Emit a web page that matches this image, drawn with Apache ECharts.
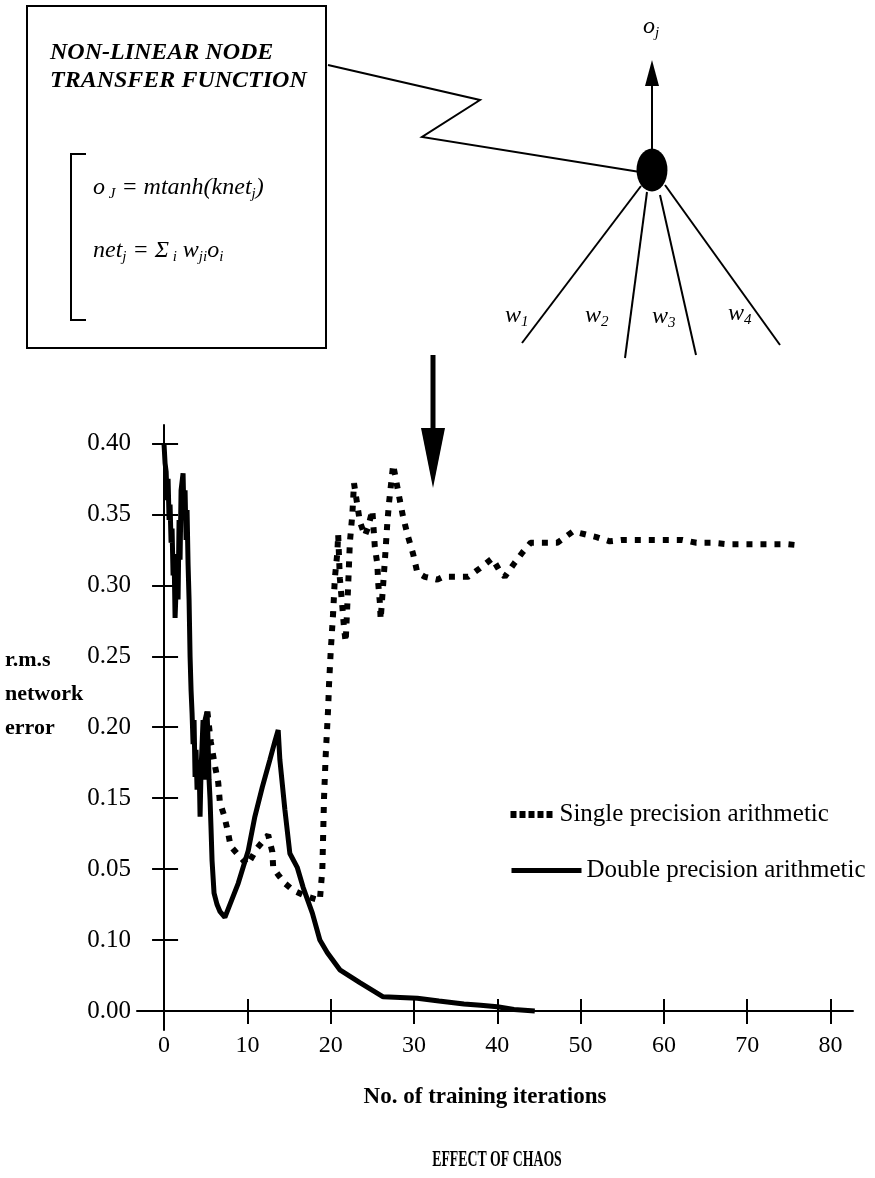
<!DOCTYPE html>
<html><head><meta charset="utf-8">
<script src="https://cdn.jsdelivr.net/npm/echarts@6/dist/echarts.min.js"></script>
<style>html,body{margin:0;padding:0;background:#fff}#c{width:875px;height:1178px}</style>
</head><body><div id="c"></div>
<script>
// ---- data ----
const xTicks = [0, 10, 20, 30, 40, 50, 60, 70, 80];
const yTicks = [0, 0.05, 0.10, 0.15, 0.20, 0.25, 0.30, 0.35, 0.40];
const yTickLabels = ['0.00', '0.10', '0.05', '0.15', '0.20', '0.25', '0.30', '0.35', '0.40'];

const doubleX = [0, 0.12, 0.25, 0.36, 0.48, 0.6, 0.72, 0.84, 0.96, 1.08, 1.2, 1.32, 1.44, 1.56, 1.68, 1.8, 1.92, 2.04, 2.28, 2.4, 2.52, 2.64, 2.76, 2.88, 3.0, 3.12, 3.24, 3.36, 3.48, 3.6, 3.72, 3.84, 3.96, 4.2, 4.32, 4.44, 4.68, 4.8, 4.92, 5.16, 5.28, 5.4, 5.52, 5.64, 5.76, 6.0, 6.36, 6.72, 7.3, 7.9, 8.9, 10.1, 10.9, 11.8, 12.7, 13.3, 13.7, 13.9, 14.5, 15.1, 16.0, 16.7, 17.8, 18.7, 19.6, 21.1, 23.5, 26.3, 30.4, 33, 36, 38, 40, 42, 44.5];
const doubleY = [0.399, 0.386, 0.38, 0.36, 0.375, 0.346, 0.357, 0.33, 0.34, 0.307, 0.322, 0.277, 0.297, 0.318, 0.29, 0.346, 0.318, 0.367, 0.379, 0.346, 0.367, 0.332, 0.353, 0.315, 0.29, 0.25, 0.226, 0.21, 0.188, 0.205, 0.165, 0.184, 0.156, 0.177, 0.137, 0.17, 0.205, 0.163, 0.205, 0.211, 0.19, 0.163, 0.149, 0.128, 0.106, 0.083, 0.075, 0.07, 0.066, 0.075, 0.09, 0.113, 0.137, 0.158, 0.177, 0.19, 0.198, 0.177, 0.142, 0.111, 0.101, 0.087, 0.069, 0.05, 0.041, 0.029, 0.02, 0.010, 0.009, 0.007, 0.005, 0.004, 0.003, 0.001, 0.0];

const singleX = [5.2, 5.6, 6.1, 6.5, 6.7, 7.2, 7.6, 8.0, 8.9, 10.0, 11.2, 12.5, 13.0, 13.1, 13.7, 14.5, 15.5, 16.6, 17.5, 18.7, 19.0, 19.2, 19.4, 19.7, 19.8, 20.0, 20.3, 20.5, 20.8, 20.9, 21.1, 21.4, 21.6, 21.8, 22.1, 22.3, 22.6, 22.8, 23.5, 24.1, 24.5, 25.0, 25.3, 25.6, 25.7, 25.9, 26.0, 26.5, 26.8, 27.0, 27.5, 28.3, 28.7, 29.3, 29.9, 30.4, 31.3, 32.8, 33.5, 34.7, 36.5, 37.9, 39.4, 40.0, 40.3, 40.9, 42.1, 43.0, 44.0, 45.6, 47.2, 49.1, 50.5, 51.9, 53.5, 55.0, 56.7, 58.5, 60.3, 62.2, 63.9, 65.8, 67.6, 69.1, 71.2, 73.0, 74.8, 76.6];
const singleY = [0.211, 0.19, 0.173, 0.161, 0.147, 0.138, 0.128, 0.116, 0.11, 0.103, 0.115, 0.124, 0.112, 0.101, 0.096, 0.09, 0.085, 0.082, 0.08, 0.078, 0.10, 0.15, 0.18, 0.214, 0.23, 0.253, 0.281, 0.305, 0.323, 0.336, 0.305, 0.285, 0.27, 0.26, 0.30, 0.33, 0.35, 0.372, 0.345, 0.335, 0.341, 0.353, 0.327, 0.315, 0.302, 0.288, 0.276, 0.317, 0.344, 0.358, 0.385, 0.36, 0.348, 0.334, 0.322, 0.309, 0.306, 0.304, 0.306, 0.306, 0.306, 0.312, 0.319, 0.313, 0.31, 0.306, 0.316, 0.323, 0.33, 0.33, 0.33, 0.338, 0.336, 0.334, 0.331, 0.332, 0.332, 0.332, 0.332, 0.332, 0.33, 0.33, 0.329, 0.329, 0.329, 0.329, 0.329, 0.328];

const seriesNames = ['Single precision arithmetic', 'Double precision arithmetic'];

// ---- build ----
const zip = (xs, ys) => xs.map((x, i) => [x, ys[i]]);
const SERIF = 'Liberation Serif';
const yFmt = v => { const i = yTicks.findIndex(t => Math.abs(t - v) < 1e-6); return i >= 0 ? yTickLabels[i] : ''; };

const chart = echarts.init(document.getElementById('c'), null, { renderer: 'canvas' });
const it = { fontFamily: SERIF, fontStyle: 'italic', fontSize: 24, lineHeight: 28, color: '#000' };
const sub = { fontFamily: SERIF, fontStyle: 'italic', fontSize: 15, lineHeight: 14, color: '#000', verticalAlign: 'bottom' };
const line = (x1, y1, x2, y2, w) => ({ type: 'line', shape: { x1, y1, x2, y2 }, style: { stroke: '#000', lineWidth: w || 2 } });
const hideSym = { color: 'rgba(0,0,0,0)', borderWidth: 0, opacity: 0 };

chart.setOption({
  animation: false,
  backgroundColor: '#fff',
  grid: { left: 137, right: 22, top: 425, bottom: 148, containLabel: false },
  xAxis: [{
    type: 'value', min: -3.25, max: 82.7,
    axisLine: { onZero: true, lineStyle: { color: '#000', width: 2 } },
    axisTick: { show: true, customValues: xTicks, length: 13, lineStyle: { color: '#000', width: 2 } },
    axisLabel: { customValues: xTicks, margin: 4, fontFamily: SERIF, fontSize: 24, color: '#000' },
    splitLine: { show: false }
  }, {
    type: 'value', min: -3.25, max: 82.7, position: 'bottom',
    axisLine: { show: false, onZero: true },
    axisTick: { show: true, inside: true, customValues: xTicks, length: 12, lineStyle: { color: '#000', width: 2 } },
    axisLabel: { show: false }, splitLine: { show: false }
  }],
  yAxis: [{
    type: 'value', min: -0.0134, max: 0.413,
    axisLine: { onZero: true, lineStyle: { color: '#000', width: 2 } },
    axisTick: { show: true, customValues: yTicks, length: 12, lineStyle: { color: '#000', width: 2 } },
    axisLabel: { customValues: yTicks, formatter: yFmt, margin: 6, fontFamily: SERIF, fontSize: 25, color: '#000' },
    splitLine: { show: false }
  }, {
    type: 'value', min: -0.0134, max: 0.413, position: 'left',
    axisLine: { show: false, onZero: true },
    axisTick: { show: true, inside: true, customValues: yTicks, length: 14, lineStyle: { color: '#000', width: 2 } },
    axisLabel: { show: false }, splitLine: { show: false }
  }],
  legend: [{
    data: [seriesNames[0]], left: 507, top: 802, padding: 0, itemWidth: 44, itemHeight: 14, selectedMode: false,
    itemStyle: hideSym,
    lineStyle: { color: '#000', width: 7, type: [6, 3], cap: 'butt' },
    textStyle: { fontFamily: SERIF, fontSize: 25, color: '#000' }
  }, {
    data: [seriesNames[1]], left: 509, top: 858, padding: 0, itemWidth: 70, itemHeight: 14, selectedMode: false,
    itemStyle: hideSym,
    lineStyle: { color: '#000', width: 5, type: 'solid' },
    textStyle: { fontFamily: SERIF, fontSize: 25, color: '#000' }
  }],
  series: [{
    name: seriesNames[1], type: 'line', data: zip(doubleX, doubleY), symbol: 'none',
    lineStyle: { color: '#000', width: 5 }, itemStyle: { color: '#000' }, z: 3
  }, {
    name: seriesNames[0], type: 'line', data: zip(singleX, singleY), symbol: 'none',
    lineStyle: { color: '#000', width: 6, type: [6, 8], cap: 'butt' }, itemStyle: { color: '#000' }, z: 4
  }],
  graphic: [
    { type: 'rect', shape: { x: 27, y: 6, width: 299, height: 342 }, style: { stroke: '#000', lineWidth: 2, fill: null } },
    { type: 'text', x: 50, y: 39, style: { text: 'NON-LINEAR NODE\nTRANSFER FUNCTION', fontFamily: SERIF, fontStyle: 'italic', fontWeight: 'bold', fontSize: 24, lineHeight: 28, fill: '#000' } },
    { type: 'polyline', shape: { points: [[86, 154], [71, 154], [71, 320], [86, 320]] }, style: { stroke: '#000', lineWidth: 2, fill: null } },
    { type: 'text', x: 93, y: 188, style: { text: '{i|o}{sub| J}{i| = mtanh(knet}{sub|j}{i|)}', rich: { i: it, sub: sub }, verticalAlign: 'middle' } },
    { type: 'text', x: 93, y: 251, style: { text: '{i|net}{sub|j}{i| = Σ}{sub| i}{i| w}{sub|ji}{i|o}{sub|i}', rich: { i: it, sub: sub }, verticalAlign: 'middle' } },
    { type: 'polyline', shape: { points: [[328, 65], [480, 100], [422, 137], [640, 172]] }, style: { stroke: '#000', lineWidth: 2, fill: null } },
    { type: 'circle', x: 652, y: 170, scaleX: 0.72, shape: { cx: 0, cy: 0, r: 21.5 }, style: { fill: '#000' } },
    line(652, 150, 652, 82, 2),
    { type: 'polygon', shape: { points: [[645, 86], [659, 86], [652, 60]] }, style: { fill: '#000' } },
    { type: 'text', x: 643, y: 27, style: { text: '{i|o}{sub|j}', rich: { i: it, sub: sub }, verticalAlign: 'middle' } },
    line(641, 186, 522, 343, 2),
    line(647, 192, 625, 358, 2),
    line(660, 195, 696, 355, 2),
    line(665, 185, 780, 345, 2),
    { type: 'text', x: 505, y: 316, style: { text: '{i|w}{sub|1}', rich: { i: it, sub: sub }, verticalAlign: 'middle' } },
    { type: 'text', x: 585, y: 316, style: { text: '{i|w}{sub|2}', rich: { i: it, sub: sub }, verticalAlign: 'middle' } },
    { type: 'text', x: 652, y: 317, style: { text: '{i|w}{sub|3}', rich: { i: it, sub: sub }, verticalAlign: 'middle' } },
    { type: 'text', x: 728, y: 314, style: { text: '{i|w}{sub|4}', rich: { i: it, sub: sub }, verticalAlign: 'middle' } },
    line(433, 355, 433, 440, 5),
    { type: 'polygon', shape: { points: [[421, 428], [445, 428], [433, 488]] }, style: { fill: '#000' } },
    { type: 'text', x: 5, y: 643, style: { text: 'r.m.s\nnetwork\nerror', fontFamily: SERIF, fontWeight: 'bold', fontSize: 22, lineHeight: 34, fill: '#000' } },
    { type: 'text', x: 485, y: 1097, style: { text: 'No. of training iterations', fontFamily: SERIF, fontWeight: 'bold', fontSize: 23, fill: '#000', align: 'center', verticalAlign: 'middle' } },
    { type: 'text', x: 497, y: 1160, scaleX: 0.6, style: { text: 'EFFECT OF CHAOS', fontFamily: SERIF, fontWeight: 'bold', fontSize: 23, fill: '#000', align: 'center', verticalAlign: 'middle' } }
  ]
});
</script></body></html>
